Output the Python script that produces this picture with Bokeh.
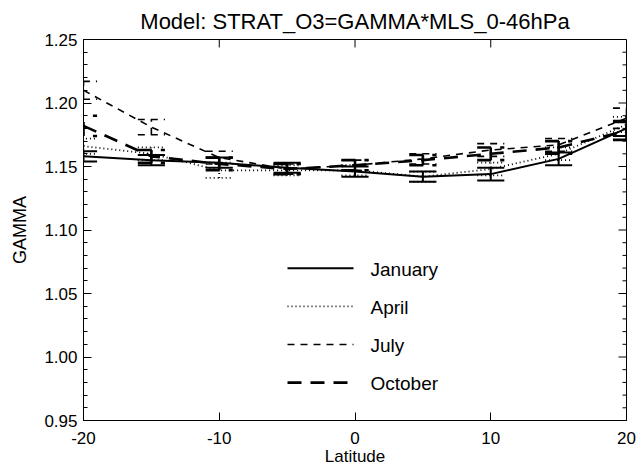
import numpy as np
from bokeh.plotting import figure
from bokeh.models import FixedTicker, NumeralTickFormatter, Range1d
from bokeh.core.properties import value
from bokeh.embed import file_html
from bokeh.resources import INLINE

# ---- data ----
latitude = [-20, -15, -10, -5, 0, 5, 10, 15, 20]
january = [1.158, 1.155, 1.153, 1.149, 1.146, 1.142, 1.144, 1.156, 1.180]
january_err = [0.004, 0.004, 0.004, 0.004, 0.004, 0.004, 0.005, 0.005, 0.006]
april = [1.166, 1.160, 1.147, 1.147, 1.147, 1.142, 1.148, 1.160, 1.183]
april_err = [0.006, 0.005, 0.006, 0.004, 0.004, 0.004, 0.005, 0.005, 0.006]
july = [1.210, 1.181, 1.157, 1.148, 1.151, 1.156, 1.163, 1.167, 1.188]
july_err = [0.007, 0.006, 0.005, 0.004, 0.004, 0.004, 0.005, 0.005, 0.008]
october = [1.182, 1.158, 1.152, 1.148, 1.151, 1.155, 1.160, 1.165, 1.178]
october_err = [0.008, 0.005, 0.005, 0.004, 0.004, 0.004, 0.005, 0.005, 0.007]

series_names = ["January", "April", "July", "October"]
x_ticks = [-20, -10, 0, 10, 20]
y_ticks = [0.95, 1.00, 1.05, 1.10, 1.15, 1.20, 1.25]
title_text = "Model: STRAT_O3=GAMMA*MLS_0-46hPa"
x_label = "Latitude"
y_label = "GAMMA"

FONT = "Liberation Sans"
W, H = 638, 468
BL, BR, BT, BB = 83, 12, 39, 46
XMIN, XMAX, YMIN, YMAX = -20, 20, 0.95, 1.25
FW, FH = W - BL - BR, H - BT - BB
DX = (XMAX - XMIN) / FW   # data units per pixel
DY = (YMAX - YMIN) / FH

styles = {
    "January": dict(line_dash="solid", line_width=2.0),
    "April": dict(line_dash="1 3", line_width=1.8),
    "July": dict(line_dash="7 6", line_width=1.6),
    "October": dict(line_dash="14 9", line_width=2.6),
}
series = {
    "January": (january, january_err),
    "April": (april, april_err),
    "July": (july, july_err),
    "October": (october, october_err),
}

p = figure(width=W, height=H, output_backend="svg", toolbar_location=None,
           x_range=Range1d(XMIN, XMAX), y_range=Range1d(YMIN, YMAX),
           min_border_left=BL, min_border_right=BR, min_border_top=BT,
           min_border_bottom=BB)
p.title.text = title_text
p.title.align = "center"
p.title.text_font = FONT
p.title.text_font_size = "22px"
p.title.text_font_style = "normal"
p.title.text_color = "black"
p.title.standoff = 0
p.title.padding = 6

p.grid.visible = False
p.outline_line_color = "black"
p.outline_line_width = 1
p.background_fill_color = "white"
p.border_fill_color = "white"

minor_y = [round(v, 2) for v in np.arange(YMIN, YMAX + 1e-4, 0.01)]
yt = FixedTicker(ticks=y_ticks, minor_ticks=minor_y)
xt = FixedTicker(ticks=x_ticks, minor_ticks=[])


def style_axis(ax):
    ax.axis_line_color = "black"
    ax.major_tick_line_color = "black"
    ax.minor_tick_line_color = "black"
    ax.major_tick_in = 8
    ax.major_tick_out = 0
    ax.minor_tick_in = 4
    ax.minor_tick_out = 0
    ax.major_label_text_font = FONT
    ax.major_label_text_color = "black"
    ax.axis_label_text_font = FONT
    ax.axis_label_text_font_style = "normal"
    ax.axis_label_text_color = "black"


ly = p.yaxis[0]
ly.ticker = yt
ly.formatter = NumeralTickFormatter(format="0.00")
style_axis(ly)
ly.major_label_text_font_size = "17px"
ly.major_label_standoff = 6
ly.axis_label = y_label
ly.axis_label_text_font_size = "18px"
ly.axis_label_standoff = 11

bx = p.xaxis[0]
bx.ticker = xt
bx.formatter = NumeralTickFormatter(format="0")
style_axis(bx)
bx.major_label_text_font_size = "17px"
bx.major_label_standoff = 11
bx.axis_label = x_label
bx.axis_label_text_font_size = "17px"
bx.axis_label_standoff = 0

# inward ticks on the top and right frame edges
tx = np.array(x_ticks[1:-1], dtype=float)
p.segment(x0=tx, y0=YMAX, x1=tx, y1=YMAX - 8 * DY, line_color="black", line_width=1)
ymaj = np.array(y_ticks, dtype=float)
p.segment(x0=XMAX, y0=ymaj, x1=XMAX - 8 * DX, y1=ymaj, line_color="black", line_width=1)
ymin_t = np.array([v for v in minor_y if all(abs(v - t) > 1e-6 for t in y_ticks)])
p.segment(x0=XMAX, y0=ymin_t, x1=XMAX - 4 * DX, y1=ymin_t, line_color="black", line_width=1)

cap_half = 1.0
lat = np.array(latitude, dtype=float)
for name in series_names:
    vals, errs = series[name]
    v = np.array(vals)
    e = np.array(errs)
    st = styles[name]
    p.line(lat, v, line_color="black", **st)
    p.segment(x0=lat, y0=v - e, x1=lat, y1=v + e, line_color="black", **st)
    p.segment(x0=lat - cap_half, y0=v + e, x1=lat + cap_half, y1=v + e,
              line_color="black", **st)
    p.segment(x0=lat - cap_half, y0=v - e, x1=lat + cap_half, y1=v - e,
              line_color="black", **st)

# legend drawn inside the frame (pixel anchors converted to data units)
leg_px_x0, leg_px_x1, leg_px_tx = 287, 353, 370
leg_px_y0, leg_px_dy = 269, 38.3
for i, name in enumerate(series_names):
    yy = YMAX - (leg_px_y0 + i * leg_px_dy - BT) * DY
    xa = XMIN + (leg_px_x0 - BL) * DX
    xb = XMIN + (leg_px_x1 - BL) * DX
    xt_ = XMIN + (leg_px_tx - BL) * DX
    p.line([xa, xb], [yy, yy], line_color="black", **styles[name])
    p.text(x=[xt_], y=[yy - 1 * DY], text=[name], text_font=value(FONT),
           text_font_size="19px", text_baseline="alphabetic",
           text_color="black")

open("out.html", "w").write(file_html(p, INLINE))
